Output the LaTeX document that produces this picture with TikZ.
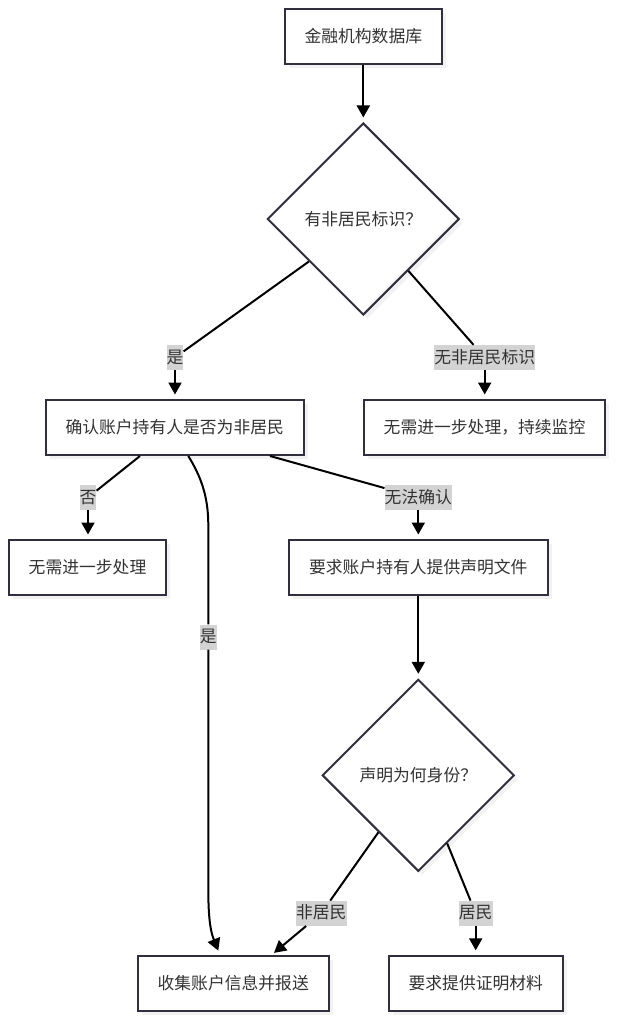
\documentclass[tikz,border=0pt]{standalone}
\usepackage{fontspec}
\setmainfont{Noto Sans CJK SC}
\usetikzlibrary{shapes.geometric,arrows.meta,shadows}
\definecolor{bordc}{HTML}{2F2F3F}
\definecolor{txtc}{HTML}{333333}
\definecolor{lblbg}{HTML}{D3D3D3}
\begin{document}
\begin{tikzpicture}[x=1pt,y=-1pt,
  every node/.style={font=\fontsize{16.8}{20}\selectfont, text=txtc},
  procbox/.style={draw=bordc, line width=2pt, fill=white, minimum height=55pt, inner xsep=20pt,
    drop shadow={opacity=0.1,shadow xshift=4pt,shadow yshift=-4pt}},
  decbox/.style={diamond, aspect=1, draw=bordc, line width=2pt, fill=white, minimum width=192pt,
    minimum height=192pt, inner sep=0pt,
    drop shadow={opacity=0.1,shadow xshift=4pt,shadow yshift=-4pt}},
  lbl/.style={fill=lblbg, inner xsep=0pt, inner ysep=4pt, text height=14pt, text depth=3pt},
  conn/.style={line width=2pt, black},
  arr/.style={conn, -{Triangle[length=12pt,width=13pt]}, shorten >=4.5pt}]
\useasboundingbox (0,0) rectangle (617,1024);
% nodes
\node[procbox] (a) at (363.3,36.2) {金融机构数据库};
\node[decbox] (d1) at (363.3,219) {有非居民标识？};
\node[procbox] (b) at (174.7,427.5) {确认账户持有人是否为非居民};
\node[procbox] (c) at (484.5,427.5) {无需进一步处理，持续监控};
\node[procbox] (d) at (87.5,567.5) {无需进一步处理};
\node[procbox] (e) at (418.3,567.5) {要求账户持有人提供声明文件};
\node[decbox] (f) at (418.3,775.3) {声明为何身份？};
\node[procbox] (g) at (233.2,983.3) {收集账户信息并报送};
\node[procbox] (h) at (475.8,983.3) {要求提供证明材料};
% edge labels
\node[lbl] (l1) at (175,357.5) {是};
\node[lbl] (l2) at (484.7,357.5) {无非居民标识};
\node[lbl] (l3) at (88,497.5) {否};
\node[lbl] (l4) at (208.3,637) {是};
\node[lbl] (l5) at (418.3,497.5) {无法确认};
\node[lbl] (l6) at (321.3,913.3) {非居民};
\node[lbl] (l7) at (475.7,913.3) {居民};
% connectors
\draw[arr] (a) -- (d1);
\draw[conn] (d1.218) -- (l1);
\draw[arr] (l1) -- (l1 |- b.north);
\draw[conn] (d1.-49) -- (l2);
\draw[arr] (l2) -- (l2 |- c.north);
\draw[conn] ([xshift=-34.7pt]b.south) -- (l3);
\draw[arr] (l3) -- (l3 |- d.north);
\draw[conn] ([xshift=95.3pt]b.south) -- (l5);
\draw[arr] (l5) -- (e);
\draw[conn] ([xshift=13.6pt]b.south) .. controls (200,475) and (208.3,495) .. (208.3,525) -- (l4);
\draw[arr] (l4) -- (208.3,890) .. controls (208.3,925) and (212,935) .. ([xshift=-13.2pt]g.north);
\draw[arr] (e) -- (f);
\draw[conn] (f.235) -- (l6);
\draw[arr, shorten >=3pt] (l6) -- ([xshift=38.5pt]g.north);
\draw[conn] (f.-67) -- (l7);
\draw[arr] (l7) -- (l7 |- h.north);
\end{tikzpicture}
\end{document}
